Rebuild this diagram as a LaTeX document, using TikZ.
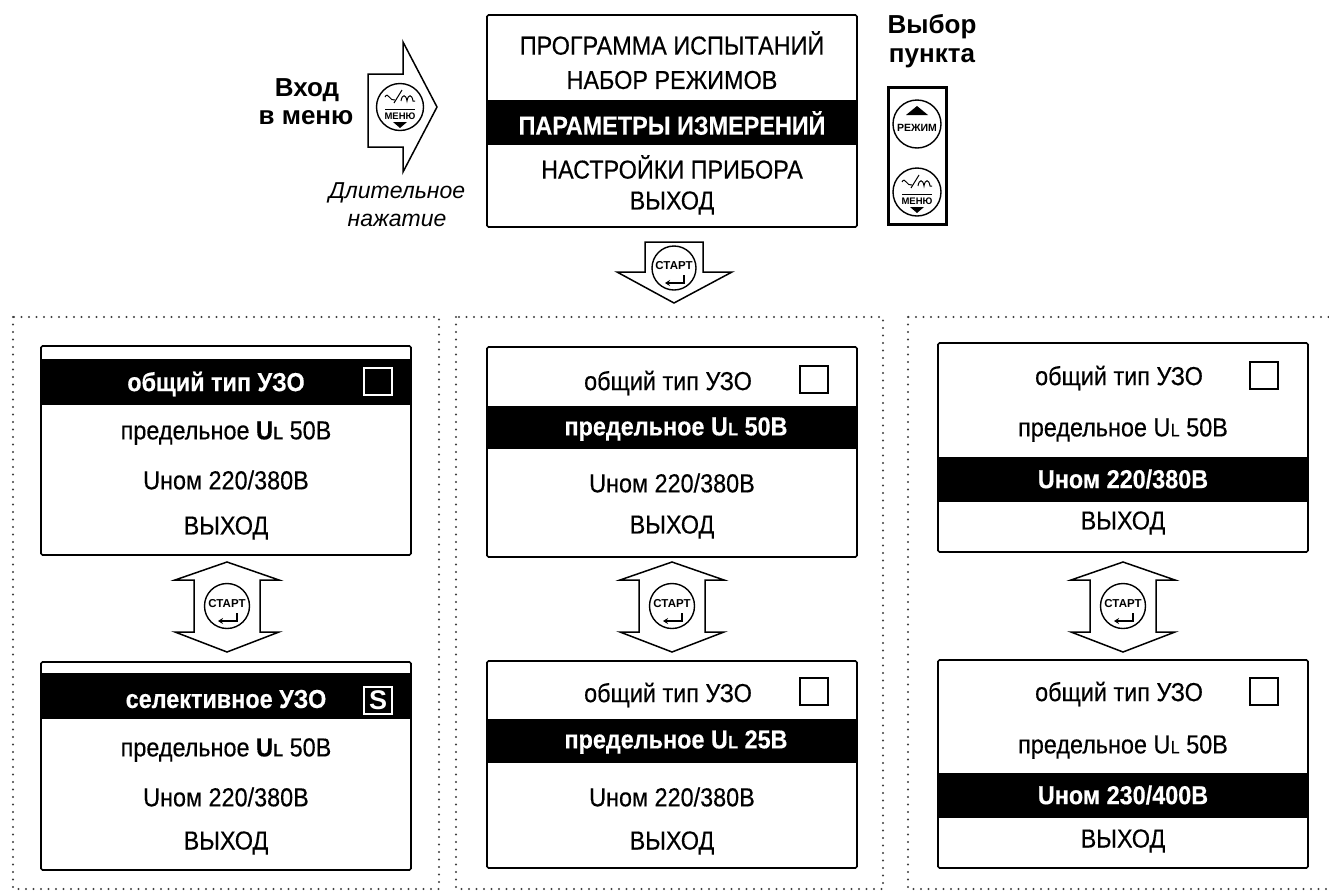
\documentclass[tikz,border=0pt]{standalone}
\usepackage{fontspec}
\setmainfont{Liberation Sans}[FakeStretch=0.9, FakeBold=0.35]
\newfontfamily\labfont{Liberation Sans}
\usetikzlibrary{arrows.meta}
\newcommand{\rowfont}{\fontsize{26}{26}\selectfont}
\newcommand{\ulab}{U\kern0.3pt{\fontsize{18}{18}\selectfont L}}
\tikzset{
  rowtxt/.style={font=\rowfont, text=black, inner sep=0},
  hltxt/.style={font=\rowfont\bfseries, text=white, inner sep=0},
  bar/.style={fill=black},
  box/.style={draw=black, line width=1.6pt, inner sep=0, rounded corners=1.5pt},
  chk/.style={draw, line width=1.6pt, minimum width=28pt, minimum height=27pt, inner sep=0},
  dotframe/.style={draw=black!75, line width=2.2pt, line cap=round, dash pattern=on 0pt off 7.5pt},
  blockarrow/.style={draw=black, line width=1.5pt, fill=white, line join=miter},
  lab/.style={font=\labfont\bfseries\fontsize{26}{28}\selectfont, inner sep=0},
  itl/.style={font=\labfont\itshape\fontsize{23}{25}\selectfont, inner sep=0},
  btnc/.style={draw=black, line width=1.4pt, fill=white},
  pics/menubtn/.style={code={
    \draw[btnc] (0,0) circle[radius=#1pt];
    \draw[line width=1pt] (-15,-10) .. controls (-12,-16) and (-10,-5) .. (-5,-7);
    \draw[line width=1pt] (-6,-4) -- (2,-17);
    \draw[line width=1pt] (1,-6) .. controls (2,-13) and (6,-13) .. (7,-6) .. controls (8,-13) and (12,-13) .. (13,-6) -- (15,-6);
    \draw[line width=0.9pt] (-15,2) -- (15,2);
    \node[font=\labfont\bfseries\fontsize{9.5}{9.5}\selectfont, inner sep=0] at (0,9) {МЕНЮ};
    \fill (-7,15) -- (7,15) -- (0,21) -- cycle;
  }},
  pics/rezhimbtn/.style={code={
    \draw[btnc] (0,0) circle[radius=#1pt];
    \fill (-11,-9) -- (11,-9) -- (0,-18) -- cycle;
    \node[font=\labfont\bfseries\fontsize{10.5}{10.5}\selectfont, inner sep=0] at (0,4) {РЕЖИМ};
  }},
  pics/startbtn/.style={code={
    \draw[btnc] (0,0) circle[radius=#1pt];
    \node[font=\labfont\bfseries\fontsize{11.5}{11.5}\selectfont, inner sep=0] at (0,-2) {СТАРТ};
    \draw[line width=1.4pt, -{Stealth[length=5pt,width=6pt]}] (10,7) -- (10,15) -- (-9,15);
  }},
}
\begin{document}
\begin{tikzpicture}[x=1pt,y=-1pt]
\useasboundingbox (0,0) rectangle (1329,892);
\fill[white] (0,0) rectangle (1329,892);

% ---------- dotted panels ----------
\draw[dotframe] (13,317) rectangle (439,889);
\draw[dotframe] (456,317) rectangle (883,889);
\draw[dotframe] (908,317) rectangle (1345,889);

% ---------- top menu ----------
\fill[bar] (487.8,100) rectangle (856.2,145);
\node[box, minimum width=370pt, minimum height=212pt] (T) at (672,121) {};
\node[rowtxt] (T1) at (672,43) {ПРОГРАММА ИСПЫТАНИЙ};
\node[rowtxt] (T2) at (672,80) {НАБОР РЕЖИМОВ};
\node[hltxt]  (T3) at (672,123) {ПАРАМЕТРЫ ИЗМЕРЕНИЙ};
\node[rowtxt] (T4) at (672,167) {НАСТРОЙКИ ПРИБОРА};
\node[rowtxt] (T5) at (672,203) {ВЫХОД};

% ---------- entry ----------
\node[lab] (in1) at (307,90) {Вход};
\node[lab] (in2) at (306,118) {в меню};
\node[itl] (lp1) at (397,193) {Длительное};
\node[itl] (lp2) at (397,220) {нажатие};
\draw[blockarrow] (368,74) -- (403,74) -- (403,42) -- (437,107) -- (403,172) -- (403,147) -- (368,147) -- cycle;
\pic at (400,107) {menubtn=23.5};

% ---------- selection ----------
\node[lab] (sel1) at (932,27) {Выбор};
\node[lab] (sel2) at (932,58) {пункта};
\node[draw, line width=3pt, minimum width=58pt, minimum height=137pt, inner sep=0] (P) at (917.5,156) {};
\pic at (917,124) {rezhimbtn=24};
\pic at (917,192) {menubtn=24};

% ---------- start arrow ----------
\draw[blockarrow] (645,242) -- (703,242) -- (703,272) -- (732,272) -- (674,303) -- (617,272) -- (645,272) -- cycle;
\pic at (674,268) {startbtn=22};

% ---------- double arrows ----------
\foreach \cx in {227,672,1123}{
  \draw[blockarrow] (\cx,562) -- (\cx+52,580) -- (\cx+33,580) -- (\cx+33,632) -- (\cx+52,632) -- (\cx,652)
     -- (\cx-52,632) -- (\cx-33,632) -- (\cx-33,580) -- (\cx-52,580) -- cycle;
  \pic at (\cx,606) {startbtn=22.5};
}

% ---------- left panel ----------
\fill[bar] (41.8,359) rectangle (410.2,405);
\node[box, minimum width=370pt, minimum height=209pt] (L1) at (226,450.5) {};
\node[hltxt] (L1a) at (216,384) {общий тип УЗО};
\node[chk, draw=white] (L1c) at (378,381.5) {};
\node[rowtxt] (L1b) at (226,433) {предельное \textbf{\ulab} 50В};
\node[rowtxt] (L1d) at (226,480) {Uном 220/380В};
\node[rowtxt] (L1e) at (226,528) {ВЫХОД};

\fill[bar] (41.8,673) rectangle (410.2,719);
\node[box, minimum width=370pt, minimum height=208pt] (L2) at (226,766) {};
\node[hltxt] (L2a) at (226,699) {селективное УЗО};
\node[chk, draw=white, text=white, font=\labfont\bfseries\fontsize{27}{27}\selectfont] (L2c) at (378,700.5) {S};
\node[rowtxt] (L2b) at (226,750) {предельное \textbf{\ulab} 50В};
\node[rowtxt] (L2d) at (226,797) {Uном 220/380В};
\node[rowtxt] (L2e) at (226,843) {ВЫХОД};

% ---------- middle panel ----------
\fill[bar] (487.8,406) rectangle (856.2,449);
\node[box, minimum width=370pt, minimum height=210pt] (M1) at (672,452) {};
\node[rowtxt] (M1a) at (668,383) {общий тип УЗО};
\node[chk] (M1c) at (814,379.5) {};
\node[hltxt] (M1b) at (676,429) {предельное \ulab{} 50В};
\node[rowtxt] (M1d) at (672,483) {Uном 220/380В};
\node[rowtxt] (M1e) at (672,527) {ВЫХОД};

\fill[bar] (487.8,719) rectangle (856.2,763);
\node[box, minimum width=370pt, minimum height=207pt] (M2) at (672,764.5) {};
\node[rowtxt] (M2a) at (668,695) {общий тип УЗО};
\node[chk] (M2c) at (814,691.5) {};
\node[hltxt] (M2b) at (676,742) {предельное \ulab{} 25В};
\node[rowtxt] (M2d) at (672,797) {Uном 220/380В};
\node[rowtxt] (M2e) at (672,843) {ВЫХОД};

% ---------- right panel ----------
\fill[bar] (938.8,457) rectangle (1307.2,502);
\node[box, minimum width=370pt, minimum height=209pt] (R1) at (1123,447.5) {};
\node[rowtxt] (R1a) at (1119,378) {общий тип УЗО};
\node[chk] (R1c) at (1264,375.5) {};
\node[rowtxt] (R1b) at (1123,430) {предельное \ulab{} 50В};
\node[hltxt] (R1d) at (1123,479) {Uном 220/380В};
\node[rowtxt] (R1e) at (1123,523) {ВЫХОД};

\fill[bar] (938.8,773) rectangle (1307.2,818);
\node[box, minimum width=370pt, minimum height=208pt] (R2) at (1123,764) {};
\node[rowtxt] (R2a) at (1119,694) {общий тип УЗО};
\node[chk] (R2c) at (1264,691.5) {};
\node[rowtxt] (R2b) at (1123,747) {предельное \ulab{} 50В};
\node[hltxt] (R2d) at (1123,795) {Uном 230/400В};
\node[rowtxt] (R2e) at (1123,841) {ВЫХОД};
\end{tikzpicture}
\end{document}
